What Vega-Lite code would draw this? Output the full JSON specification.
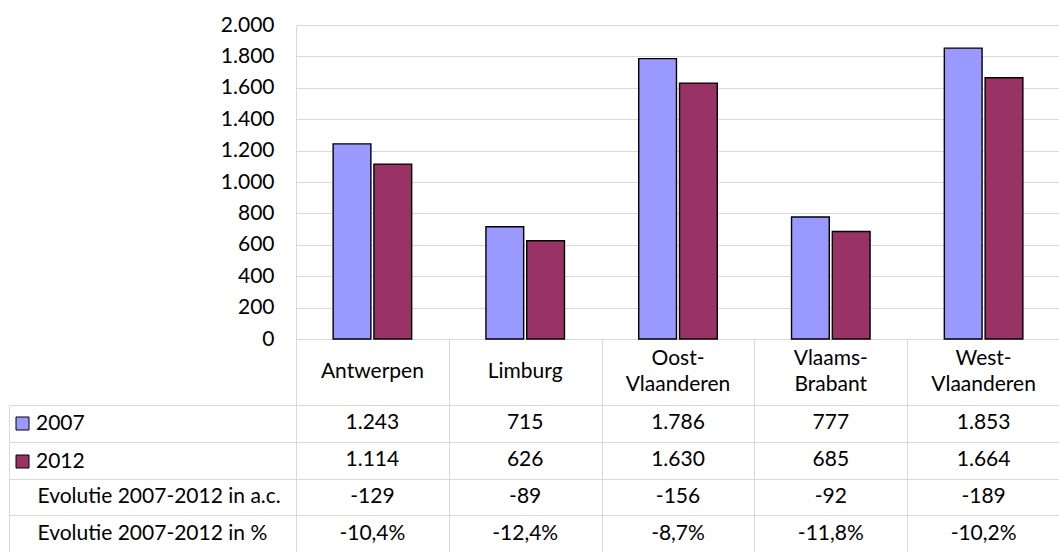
{
  "$schema": "https://vega.github.io/schema/vega-lite/v6.json",
  "padding": {"left": 8, "top": 14, "right": 0, "bottom": 0},
  "autosize": {"type": "pad"},
  "bounds": "flush",
  "spacing": 66,
  "config": {
    "view": {"stroke": null},
    "font": "Lato",
    "axis": {"labelFont": "Lato", "labelColor": "#000", "labelFontSize": 21, "gridColor": "#d9d9d9", "domainColor": "#d9d9d9", "tickColor": "#d9d9d9"},
    "legend": {"labelFont": "Lato", "labelColor": "#000"}
  },
  "datasets": {
    "bars": [
      {"region": "Antwerpen", "year": "2007", "value": 1243},
      {"region": "Antwerpen", "year": "2012", "value": 1114},
      {"region": "Limburg", "year": "2007", "value": 715},
      {"region": "Limburg", "year": "2012", "value": 626},
      {"region": "Oost-Vlaanderen", "year": "2007", "value": 1786},
      {"region": "Oost-Vlaanderen", "year": "2012", "value": 1630},
      {"region": "Vlaams-Brabant", "year": "2007", "value": 777},
      {"region": "Vlaams-Brabant", "year": "2012", "value": 685},
      {"region": "West-Vlaanderen", "year": "2007", "value": 1853},
      {"region": "West-Vlaanderen", "year": "2012", "value": 1664}
    ],
    "heads": [
      {"region": "Antwerpen", "nlines": 1, "lines": ["Antwerpen"]},
      {"region": "Limburg", "nlines": 1, "lines": ["Limburg"]},
      {"region": "Oost-Vlaanderen", "nlines": 2, "lines": ["Oost-", "Vlaanderen"]},
      {"region": "Vlaams-Brabant", "nlines": 2, "lines": ["Vlaams-", "Brabant"]},
      {"region": "West-Vlaanderen", "nlines": 2, "lines": ["West-", "Vlaanderen"]}
    ],
    "table": [
      {"region": "Antwerpen", "row": "2007", "text": "1.243"},
      {"region": "Limburg", "row": "2007", "text": "715"},
      {"region": "Oost-Vlaanderen", "row": "2007", "text": "1.786"},
      {"region": "Vlaams-Brabant", "row": "2007", "text": "777"},
      {"region": "West-Vlaanderen", "row": "2007", "text": "1.853"},
      {"region": "Antwerpen", "row": "2012", "text": "1.114"},
      {"region": "Limburg", "row": "2012", "text": "626"},
      {"region": "Oost-Vlaanderen", "row": "2012", "text": "1.630"},
      {"region": "Vlaams-Brabant", "row": "2012", "text": "685"},
      {"region": "West-Vlaanderen", "row": "2012", "text": "1.664"},
      {"region": "Antwerpen", "row": "Evolutie 2007-2012 in a.c.", "text": "-129"},
      {"region": "Limburg", "row": "Evolutie 2007-2012 in a.c.", "text": "-89"},
      {"region": "Oost-Vlaanderen", "row": "Evolutie 2007-2012 in a.c.", "text": "-156"},
      {"region": "Vlaams-Brabant", "row": "Evolutie 2007-2012 in a.c.", "text": "-92"},
      {"region": "West-Vlaanderen", "row": "Evolutie 2007-2012 in a.c.", "text": "-189"},
      {"region": "Antwerpen", "row": "Evolutie 2007-2012 in %", "text": "-10,4%"},
      {"region": "Limburg", "row": "Evolutie 2007-2012 in %", "text": "-12,4%"},
      {"region": "Oost-Vlaanderen", "row": "Evolutie 2007-2012 in %", "text": "-8,7%"},
      {"region": "Vlaams-Brabant", "row": "Evolutie 2007-2012 in %", "text": "-11,8%"},
      {"region": "West-Vlaanderen", "row": "Evolutie 2007-2012 in %", "text": "-10,2%"}
    ]
  },
  "vconcat": [
    {
      "width": 764,
      "height": 314,
      "encoding": {
        "x": {
          "field": "region", "type": "nominal",
          "sort": ["Antwerpen", "Limburg", "Oost-Vlaanderen", "Vlaams-Brabant", "West-Vlaanderen"],
          "scale": {"paddingInner": 0, "paddingOuter": 0},
          "axis": {"title": null, "orient": "bottom", "labels": false, "tickBand": "extent", "tickSize": 66, "grid": false}
        }
      },
      "layer": [
        {
          "data": {"name": "bars"},
          "mark": {"type": "bar", "stroke": "#000", "strokeWidth": 1.4},
          "encoding": {
            "xOffset": {"field": "year", "type": "nominal", "scale": {"paddingInner": 0.075, "paddingOuter": 0.91}},
            "y": {
              "field": "value", "type": "quantitative",
              "scale": {"domain": [0, 2000]},
              "axis": {
                "title": null, "values": [0, 200, 400, 600, 800, 1000, 1200, 1400, 1600, 1800, 2000],
                "labelExpr": "replace(format(datum.value, ','), ',', '.')",
                "ticks": false, "labelPadding": 22, "labelOverlap": false
              }
            },
            "color": {
              "field": "year", "type": "nominal",
              "scale": {"domain": ["2007", "2012"], "range": ["#9999ff", "#993366"]},
              "legend": {
                "title": null, "orient": "none", "legendX": -284, "legendY": 388,
                "symbolType": "square", "symbolSize": 169, "symbolStrokeColor": "#000", "symbolStrokeWidth": 1,
                "symbolOpacity": 1, "labelFontSize": 21, "rowPadding": 16, "labelOffset": 3
              }
            }
          }
        },
        {
          "data": {"name": "heads"},
          "transform": [{"filter": {"field": "nlines", "equal": 1}}],
          "mark": {"type": "text", "fontSize": 21, "font": "Lato", "color": "#000", "baseline": "middle", "dy": 33},
          "encoding": {
            "y": {
              "datum": 0, "type": "quantitative",
              "scale": {"domain": [0, 2000]},
              "axis": {
                "title": null, "values": [0, 200, 400, 600, 800, 1000, 1200, 1400, 1600, 1800, 2000],
                "labelExpr": "replace(format(datum.value, ','), ',', '.')",
                "ticks": false, "labelPadding": 22, "labelOverlap": false
              }
            },
            "text": {"field": "lines", "type": "nominal"}
          }
        },
        {
          "data": {"name": "heads"},
          "transform": [{"filter": {"field": "nlines", "equal": 2}}],
          "mark": {"type": "text", "fontSize": 21, "font": "Lato", "color": "#000", "baseline": "middle", "lineHeight": 26, "dy": 20},
          "encoding": {
            "y": {
              "datum": 0, "type": "quantitative",
              "scale": {"domain": [0, 2000]},
              "axis": {
                "title": null, "values": [0, 200, 400, 600, 800, 1000, 1200, 1400, 1600, 1800, 2000],
                "labelExpr": "replace(format(datum.value, ','), ',', '.')",
                "ticks": false, "labelPadding": 22, "labelOverlap": false
              }
            },
            "text": {"field": "lines", "type": "nominal"}
          }
        }
      ]
    },
    {
      "width": 764,
      "height": 147,
      "data": {"name": "table"},
      "mark": {"type": "text", "fontSize": 21, "font": "Lato", "color": "#000"},
      "encoding": {
        "x": {
          "field": "region", "type": "nominal",
          "sort": ["Antwerpen", "Limburg", "Oost-Vlaanderen", "Vlaams-Brabant", "West-Vlaanderen"],
          "scale": {"paddingInner": 0, "paddingOuter": 0},
          "axis": {"title": null, "orient": "top", "labels": false, "ticks": false, "domain": false, "grid": true, "tickBand": "extent"}
        },
        "y": {
          "field": "row", "type": "nominal",
          "sort": ["2007", "2012", "Evolutie 2007-2012 in a.c.", "Evolutie 2007-2012 in %"],
          "scale": {"paddingInner": 0, "paddingOuter": 0},
          "axis": {
            "title": null, "offset": 287, "tickBand": "extent", "tickSize": -287, "grid": true,
            "labelAlign": "left", "labelPadding": 259, "labelLimit": 400,
            "labelExpr": "datum.label == '2007' || datum.label == '2012' ? '' : datum.label"
          }
        },
        "text": {"field": "text"}
      }
    }
  ]
}
